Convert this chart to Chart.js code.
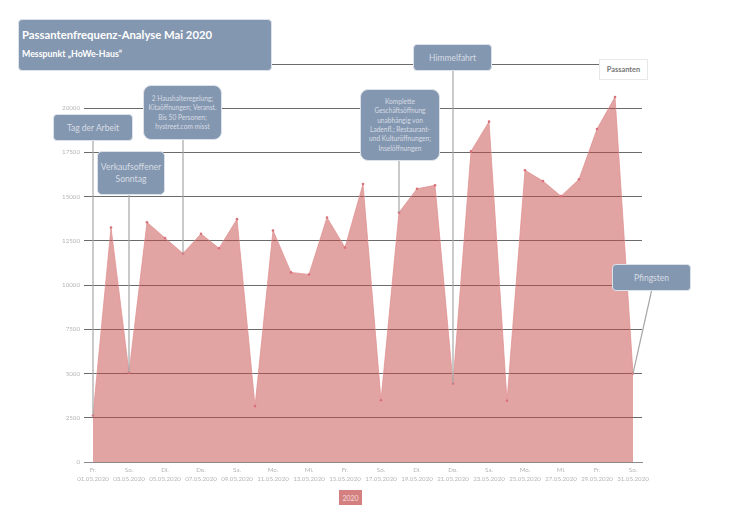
<!DOCTYPE html>
<html lang="de">
<head>
<meta charset="utf-8">
<title>Passantenfrequenz-Analyse Mai 2020</title>
<script src="https://cdn.jsdelivr.net/npm/chart.js@4"></script>
<style>
  html, body { margin: 0; padding: 0; background: #fff; }
  body { position: relative; width: 746px; height: 527px; overflow: hidden; font-family: Lato, sans-serif; }
  canvas { position: absolute; left: 0; top: 0; }
  .note {
    position: absolute; box-sizing: border-box; display: flex; align-items: center; justify-content: center;
    text-align: center; background: #8497b0; border: 1px solid #dde2ea; border-radius: 4px;
    color: #d6dce5; font-size: 8.5px; line-height: 12px;
  }
  .note.small { font-size: 6.6px; line-height: 9.4px; border-radius: 8px; }
  #title-box {
    position: absolute; box-sizing: border-box; left: 18px; top: 19px; width: 254px; height: 52px;
    background: #8497b0; border: 1px solid #dde2ea; border-radius: 4px; color: #fff; padding: 6px 3px;
  }
  #title-box .t1 { font-size: 11.3px; font-weight: 700; line-height: 17px; }
  #title-box .t2 { font-size: 8.8px; font-weight: 700; line-height: 12px; margin-top: 5px; }
  #unit-box {
    position: absolute; box-sizing: border-box; left: 599px; top: 59px; width: 49px; height: 21px;
    background: #fff; border: 1px solid #e8e8e8; color: #777; font-size: 7.4px; font-weight: 700;
    display: flex; align-items: center; justify-content: center;
  }
  #year-box {
    position: absolute; box-sizing: border-box; left: 339px; top: 490px; width: 23px; height: 15px;
    background: #d58080; color: #f3dcdc; font-size: 7px;
    display: flex; align-items: center; justify-content: center;
  }
</style>
</head>
<body>
<canvas id="chart" width="746" height="527"></canvas>

<div id="title-box">
  <div class="t1">Passantenfrequenz-Analyse Mai 2020</div>
  <div class="t2">Messpunkt „HoWe-Haus“</div>
</div>
<div id="unit-box">Passanten</div>
<div id="year-box">2020</div>

<div class="note" id="note-arbeit" style="left:53px;top:114px;width:80px;height:27px">Tag der Arbeit</div>
<div class="note" id="note-sonntag" style="left:97px;top:151px;width:68px;height:44px;font-size:8.6px;border-radius:5px"><span>Verkaufsoffener<br>Sonntag</span></div>
<div class="note small" id="note-haushalt" style="left:143px;top:85px;width:79px;height:55px"><span>2 Haushalteregelung;<br>Kitaöffnungen; Veranst.<br>Bis 50 Personen;<br>hystreet.com misst</span></div>
<div class="note small" id="note-oeffnung" style="left:360px;top:89px;width:80px;height:72px"><span>Komplette<br>Geschäftsöffnung<br>unabhängig von<br>Ladenfl.; Restaurant-<br>und Kulturöffnungen;<br>Inselöffnungen</span></div>
<div class="note" id="note-himmelfahrt" style="left:413px;top:44px;width:79px;height:27px">Himmelfahrt</div>
<div class="note" id="note-pfingsten" style="left:612px;top:264px;width:79px;height:27px">Pfingsten</div>

<script>
// Passanten pro Tag, Mai 2020
const dates = ['01.05.2020','02.05.2020','03.05.2020','04.05.2020','05.05.2020','06.05.2020','07.05.2020','08.05.2020',
  '09.05.2020','10.05.2020','11.05.2020','12.05.2020','13.05.2020','14.05.2020','15.05.2020','16.05.2020','17.05.2020',
  '18.05.2020','19.05.2020','20.05.2020','21.05.2020','22.05.2020','23.05.2020','24.05.2020','25.05.2020','26.05.2020',
  '27.05.2020','28.05.2020','29.05.2020','30.05.2020','31.05.2020'];
const weekdays = ['Fr.','Sa.','So.','Mo.','Di.','Mi.','Do.','Fr.','Sa.','So.','Mo.','Di.','Mi.','Do.','Fr.','Sa.','So.',
  'Mo.','Di.','Mi.','Do.','Fr.','Sa.','So.','Mo.','Di.','Mi.','Do.','Fr.','Sa.','So.'];
const passanten = [2630,13260,5060,13550,12660,11790,12900,12080,13730,3160,13090,10720,10600,13820,12120,15710,3490,
  14100,15450,15640,4440,17560,19240,3460,16490,15880,15030,15980,18820,20630,5000];

// Hinweisboxen und der Tag, auf den ihre Linie zeigt
const noteIds  = ['note-arbeit','note-sonntag','note-haushalt','note-oeffnung','note-himmelfahrt','note-pfingsten'];
const noteDays = ['01.05.2020','03.05.2020','06.05.2020','18.05.2020','21.05.2020','31.05.2020'];

const tickColor = '#b5b5b5';

// Linien von den Boxen zum Datenpunkt
const leaderLines = {
  id: 'leaderLines',
  afterDatasetsDraw(chart) {
    const { ctx, scales: { x, y } } = chart;
    ctx.save();
    ctx.strokeStyle = '#a6a6a6';
    ctx.lineWidth = 1.2;
    noteIds.forEach((id, i) => {
      const box = document.getElementById(id);
      const idx = dates.indexOf(noteDays[i]);
      const px = x.getPixelForValue(idx);
      const py = y.getPixelForValue(passanten[idx]);
      // nur Pfingsten läuft schräg, die anderen senkrecht
      const startX = id === 'note-pfingsten' ? box.offsetLeft + box.offsetWidth / 2 : px;
      ctx.beginPath();
      ctx.moveTo(startX, box.offsetTop + box.offsetHeight);
      ctx.lineTo(px, py);
      ctx.stroke();
    });
    ctx.restore();
  }
};

new Chart(document.getElementById('chart').getContext('2d'), {
  type: 'line',
  data: {
    labels: dates,
    datasets: [{
      label: '2020',
      data: passanten,
      borderColor: 'rgba(224,140,140,0.7)',
      backgroundColor: 'rgba(198,74,72,0.5)',
      borderWidth: 1,
      pointRadius: 1.3,
      pointBackgroundColor: '#d9707a',
      pointBorderWidth: 0,
      tension: 0,
      fill: 'origin',
    }]
  },
  options: {
    responsive: false,
    animation: false,
    devicePixelRatio: 1,
    layout: { padding: { top: 64, right: 104, left: 0, bottom: 0 } },
    plugins: { legend: { display: false }, tooltip: { enabled: false } },
    scales: {
      x: {
        offset: true,
        grid: { display: false, drawTicks: false },
        border: { color: '#8a8a8a', width: 1 },
        ticks: {
          autoSkip: false,
          maxRotation: 0,
          minRotation: 0,
          padding: 3,
          color: tickColor,
          font: { family: 'Lato', size: 6.2, lineHeight: 1.5 },
          callback: (v, i) => i % 2 === 0 ? [weekdays[i], dates[i]] : '',
        },
        afterFit: s => { s.height = 65; },
      },
      y: {
        min: 0,
        max: 22500,
        grid: { color: '#6b6b6b', lineWidth: 1, drawTicks: false },
        border: { display: false },
        ticks: {
          stepSize: 2500,
          padding: 4,
          color: tickColor,
          font: { family: 'Lato', size: 6.2 },
          callback: v => String(v),
        },
        afterFit: s => { s.width = 84; },
      },
    }
  },
  plugins: [leaderLines],
});
</script>
</body>
</html>
